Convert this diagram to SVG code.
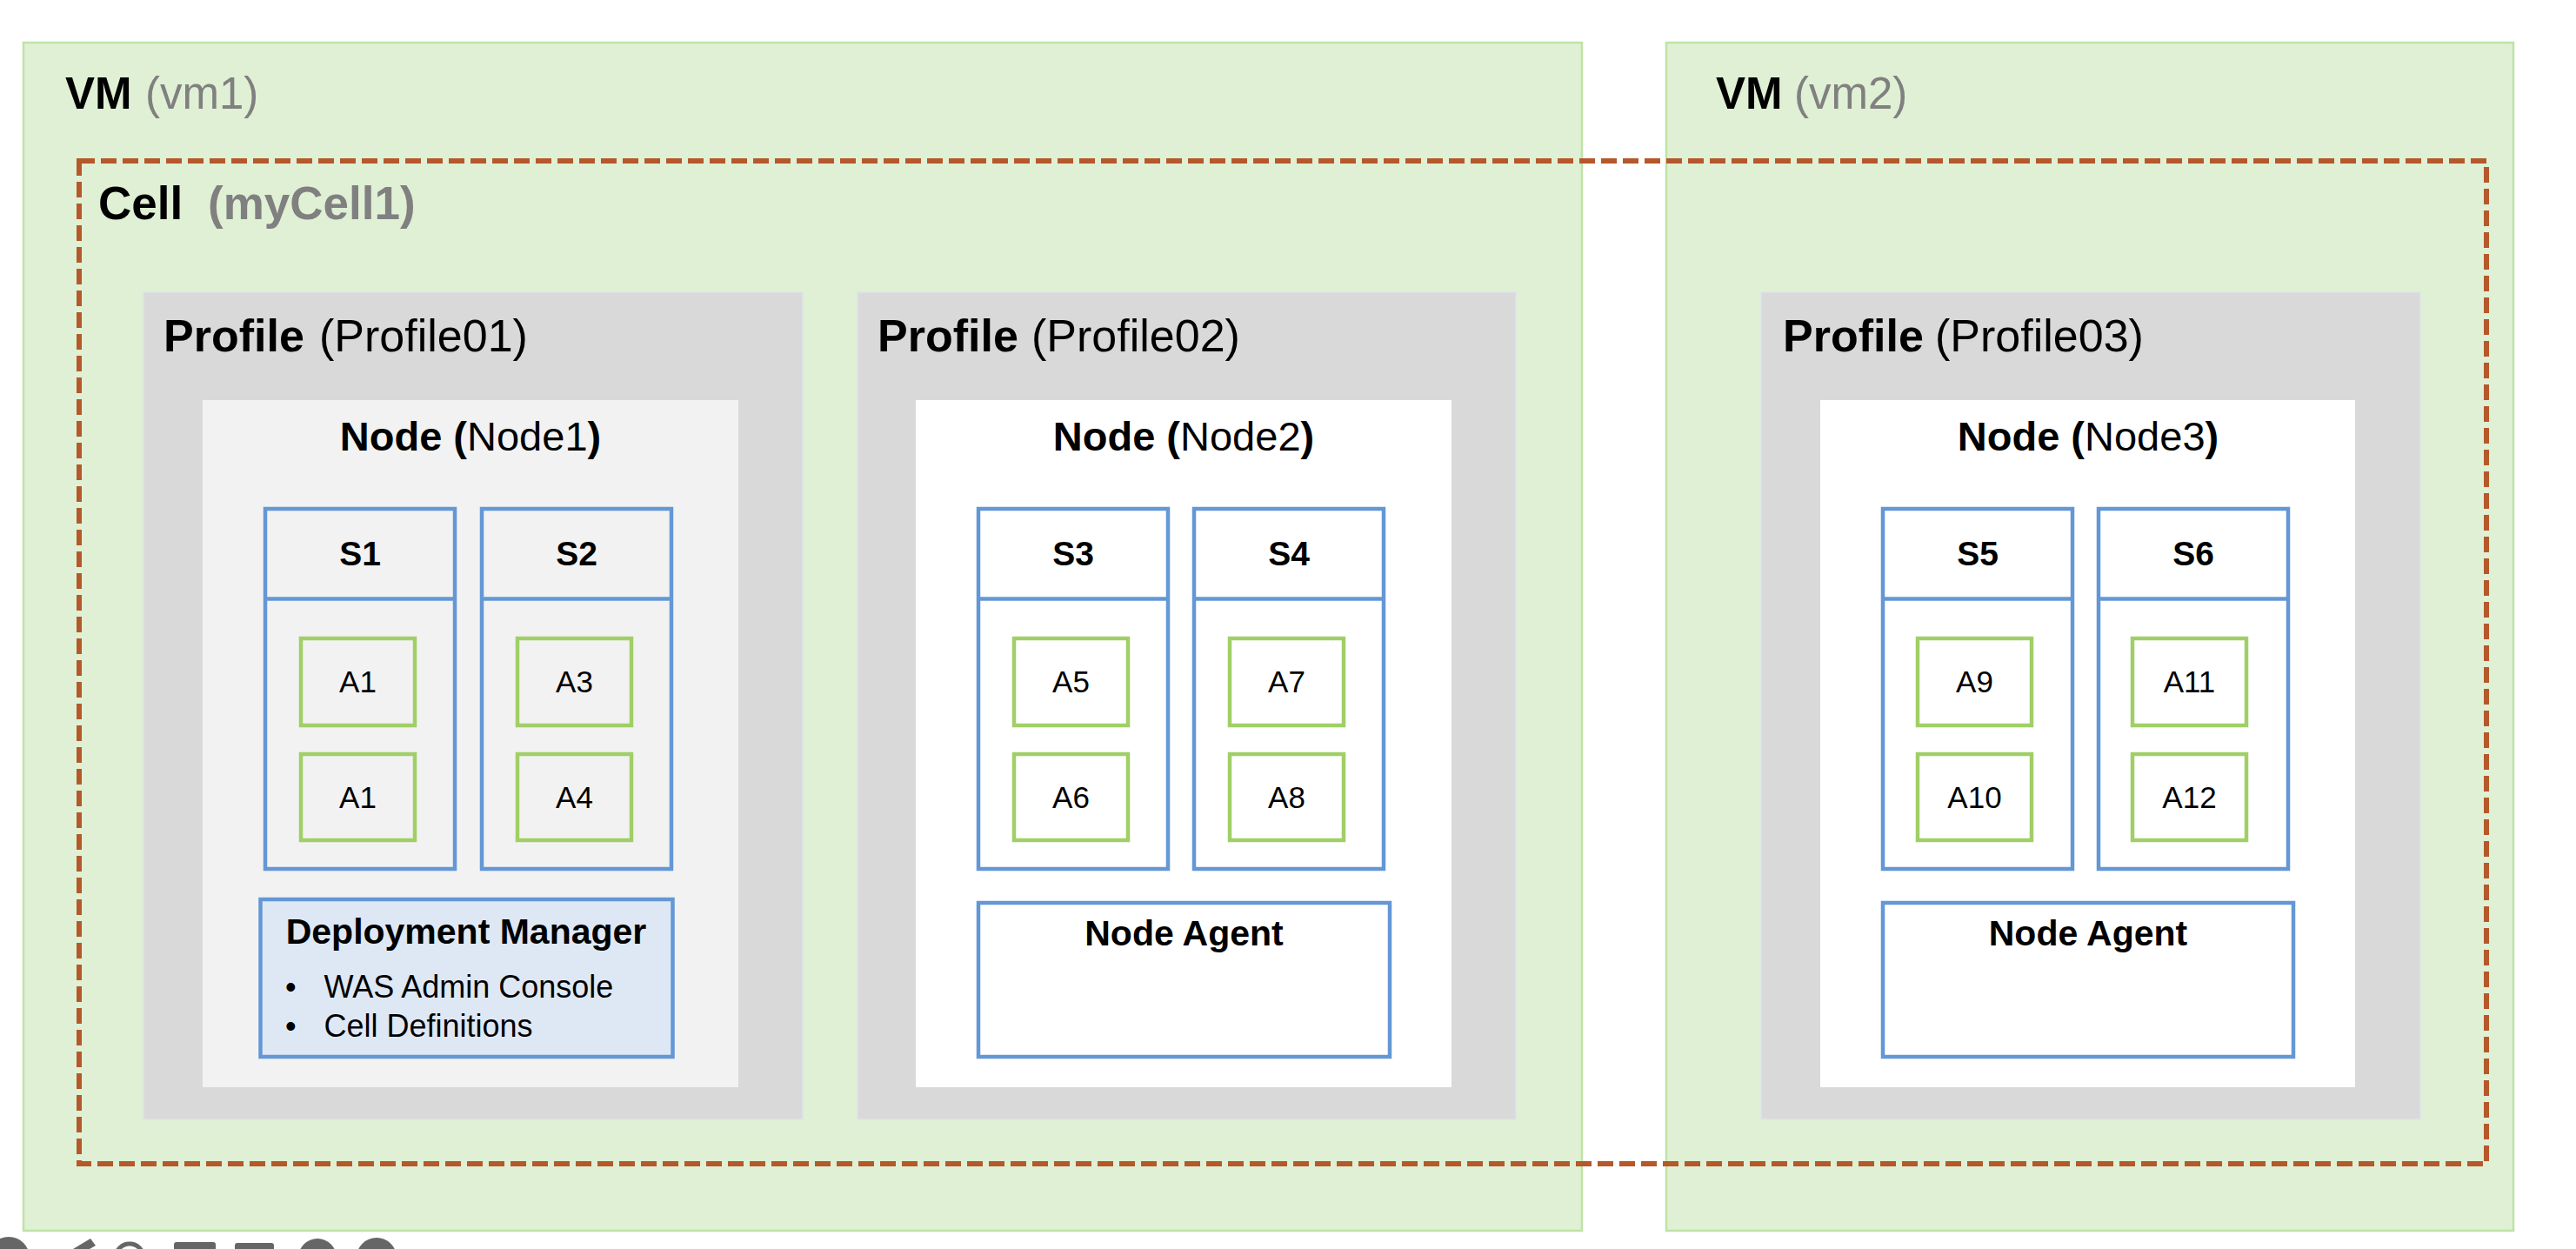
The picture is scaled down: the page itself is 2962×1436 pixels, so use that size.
<svg xmlns="http://www.w3.org/2000/svg" width="2962" height="1436" viewBox="0 0 2962 1436">
<style>
text{font-family:"Liberation Sans",Arial,sans-serif;fill:#000}
.vm{fill:#DFF0D4;stroke:#BFE3A6;stroke-width:2.5}
.prof{fill:#D9D9D9;stroke:#DCE3EC;stroke-width:1.5}
.node1{fill:#F2F2F2}
.node{fill:#FFFFFF}
.srv{fill:none;stroke:#6497D5;stroke-width:4.5}
.app{fill:none;stroke:#A1CF67;stroke-width:4.5}
.dm{fill:#DEE8F5;stroke:#6497D5;stroke-width:4.5}
.agent{fill:#FFFFFF;stroke:#6497D5;stroke-width:4.5}
.cell{fill:none;stroke:#B5582A;stroke-width:6;stroke-dasharray:18 7}
.big{font-size:51px}
.prf{font-size:52px}
.nd{font-size:47px}
.sl{font-size:39px;font-weight:bold}
.al{font-size:35px}
.bl{font-size:36px}
.hd{font-size:41px;font-weight:bold}
.b{font-weight:bold}
.g{fill:#808080}
.icon{fill:#666666}
</style>

<g id="vm1">
<rect class="vm" x="27" y="49" width="1792" height="1366"/>
<text class="big" x="75" y="125"><tspan class="b">VM</tspan><tspan class="g" x="167">(vm1)</tspan></text>
</g>
<g id="vm2">
<rect class="vm" x="1916" y="49" width="974" height="1366"/>
<text class="big" x="1973" y="125"><tspan class="b">VM</tspan><tspan class="g" x="2063">(vm2)</tspan></text>
</g>

<g id="profile01">
<rect class="prof" x="165" y="336" width="758" height="951"/>
<text class="prf" x="188" y="404"><tspan class="b">Profile</tspan><tspan x="367">(Profile01)</tspan></text>
</g>
<g id="profile02">
<rect class="prof" x="986" y="336" width="757" height="951"/>
<text class="prf" x="1009" y="404"><tspan class="b">Profile</tspan><tspan x="1186">(Profile02)</tspan></text>
</g>
<g id="profile03">
<rect class="prof" x="2025" y="336" width="758" height="951"/>
<text class="prf" x="2050" y="404"><tspan class="b">Profile</tspan><tspan x="2225">(Profile03)</tspan></text>
</g>

<g id="node1">
<rect class="node1" x="233" y="460" width="616" height="790"/>
<text class="nd" x="541" y="518" text-anchor="middle"><tspan class="b">Node (</tspan><tspan>Node1</tspan><tspan class="b">)</tspan></text>
</g>
<g id="node2">
<rect class="node" x="1053" y="460" width="616" height="790"/>
<text class="nd" x="1361" y="518" text-anchor="middle"><tspan class="b">Node (</tspan><tspan>Node2</tspan><tspan class="b">)</tspan></text>
</g>
<g id="node3">
<rect class="node" x="2093" y="460" width="615" height="790"/>
<text class="nd" x="2401" y="518" text-anchor="middle"><tspan class="b">Node (</tspan><tspan>Node3</tspan><tspan class="b">)</tspan></text>
</g>

<g id="s1">
<rect class="srv" x="305" y="585" width="218" height="414"/>
<line class="srv" x1="305" y1="688.5" x2="523" y2="688.5"/>
<text class="sl" x="414" y="650" text-anchor="middle">S1</text>
</g>
<g id="s2">
<rect class="srv" x="554" y="585" width="218" height="414"/>
<line class="srv" x1="554" y1="688.5" x2="772" y2="688.5"/>
<text class="sl" x="663" y="650" text-anchor="middle">S2</text>
</g>
<g id="s3">
<rect class="srv" x="1125" y="585" width="218" height="414"/>
<line class="srv" x1="1125" y1="688.5" x2="1343" y2="688.5"/>
<text class="sl" x="1234" y="650" text-anchor="middle">S3</text>
</g>
<g id="s4">
<rect class="srv" x="1373" y="585" width="218" height="414"/>
<line class="srv" x1="1373" y1="688.5" x2="1591" y2="688.5"/>
<text class="sl" x="1482" y="650" text-anchor="middle">S4</text>
</g>
<g id="s5">
<rect class="srv" x="2165" y="585" width="218" height="414"/>
<line class="srv" x1="2165" y1="688.5" x2="2383" y2="688.5"/>
<text class="sl" x="2274" y="650" text-anchor="middle">S5</text>
</g>
<g id="s6">
<rect class="srv" x="2413" y="585" width="218" height="414"/>
<line class="srv" x1="2413" y1="688.5" x2="2631" y2="688.5"/>
<text class="sl" x="2522" y="650" text-anchor="middle">S6</text>
</g>

<g id="a1-top">
<rect class="app" x="346" y="734" width="131" height="100"/>
<text class="al" x="411.5" y="796" text-anchor="middle">A1</text>
</g>
<g id="a1-bottom">
<rect class="app" x="346" y="867" width="131" height="99"/>
<text class="al" x="411.5" y="929" text-anchor="middle">A1</text>
</g>
<g id="a3">
<rect class="app" x="595" y="734" width="131" height="100"/>
<text class="al" x="660.5" y="796" text-anchor="middle">A3</text>
</g>
<g id="a4">
<rect class="app" x="595" y="867" width="131" height="99"/>
<text class="al" x="660.5" y="929" text-anchor="middle">A4</text>
</g>
<g id="a5">
<rect class="app" x="1166" y="734" width="131" height="100"/>
<text class="al" x="1231.5" y="796" text-anchor="middle">A5</text>
</g>
<g id="a6">
<rect class="app" x="1166" y="867" width="131" height="99"/>
<text class="al" x="1231.5" y="929" text-anchor="middle">A6</text>
</g>
<g id="a7">
<rect class="app" x="1414" y="734" width="131" height="100"/>
<text class="al" x="1479.5" y="796" text-anchor="middle">A7</text>
</g>
<g id="a8">
<rect class="app" x="1414" y="867" width="131" height="99"/>
<text class="al" x="1479.5" y="929" text-anchor="middle">A8</text>
</g>
<g id="a9">
<rect class="app" x="2205" y="734" width="131" height="100"/>
<text class="al" x="2270.5" y="796" text-anchor="middle">A9</text>
</g>
<g id="a10">
<rect class="app" x="2205" y="867" width="131" height="99"/>
<text class="al" x="2270.5" y="929" text-anchor="middle">A10</text>
</g>
<g id="a11">
<rect class="app" x="2452" y="734" width="131" height="100"/>
<text class="al" x="2517.5" y="796" text-anchor="middle">A11</text>
</g>
<g id="a12">
<rect class="app" x="2452" y="867" width="131" height="99"/>
<text class="al" x="2517.5" y="929" text-anchor="middle">A12</text>
</g>

<g id="deployment-manager">
<rect class="dm" x="299.5" y="1034" width="474" height="181"/>
<text class="hd" x="536" y="1085" text-anchor="middle">Deployment Manager</text>
<text class="bl" x="328" y="1147">•</text>
<text class="bl" x="372.5" y="1147">WAS Admin Console</text>
<text class="bl" x="328" y="1192">•</text>
<text class="bl" x="372.5" y="1192">Cell Definitions</text>
</g>
<g id="node-agent-2">
<rect class="agent" x="1125" y="1038" width="473" height="177"/>
<text class="hd" x="1361.5" y="1087" text-anchor="middle">Node Agent</text>
</g>
<g id="node-agent-3">
<rect class="agent" x="2165" y="1038" width="472" height="177"/>
<text class="hd" x="2401" y="1087" text-anchor="middle">Node Agent</text>
</g>

<g id="cell">
<rect class="cell" x="91" y="185" width="2768" height="1153"/>
<text x="113" y="252" font-size="53" font-weight="bold">Cell<tspan class="g" x="239">(myCell1)</tspan></text>
</g>

<g id="connectors"></g>

<g id="toolbar">
<circle class="icon" cx="10" cy="1446" r="24"/>
<path d="M84 1436 L104 1424 L110 1432 L96 1440 Z" class="icon"/>
<circle cx="149" cy="1446" r="16" fill="none" stroke="#666666" stroke-width="5"/>
<rect class="icon" x="200" y="1428" width="48" height="12" rx="3"/>
<rect class="icon" x="270" y="1429" width="45" height="12" rx="3"/>
<circle class="icon" cx="365" cy="1446" r="22"/>
<circle class="icon" cx="433" cy="1446" r="24" stroke="#FFFFFF" stroke-width="2"/>
</g>
</svg>
